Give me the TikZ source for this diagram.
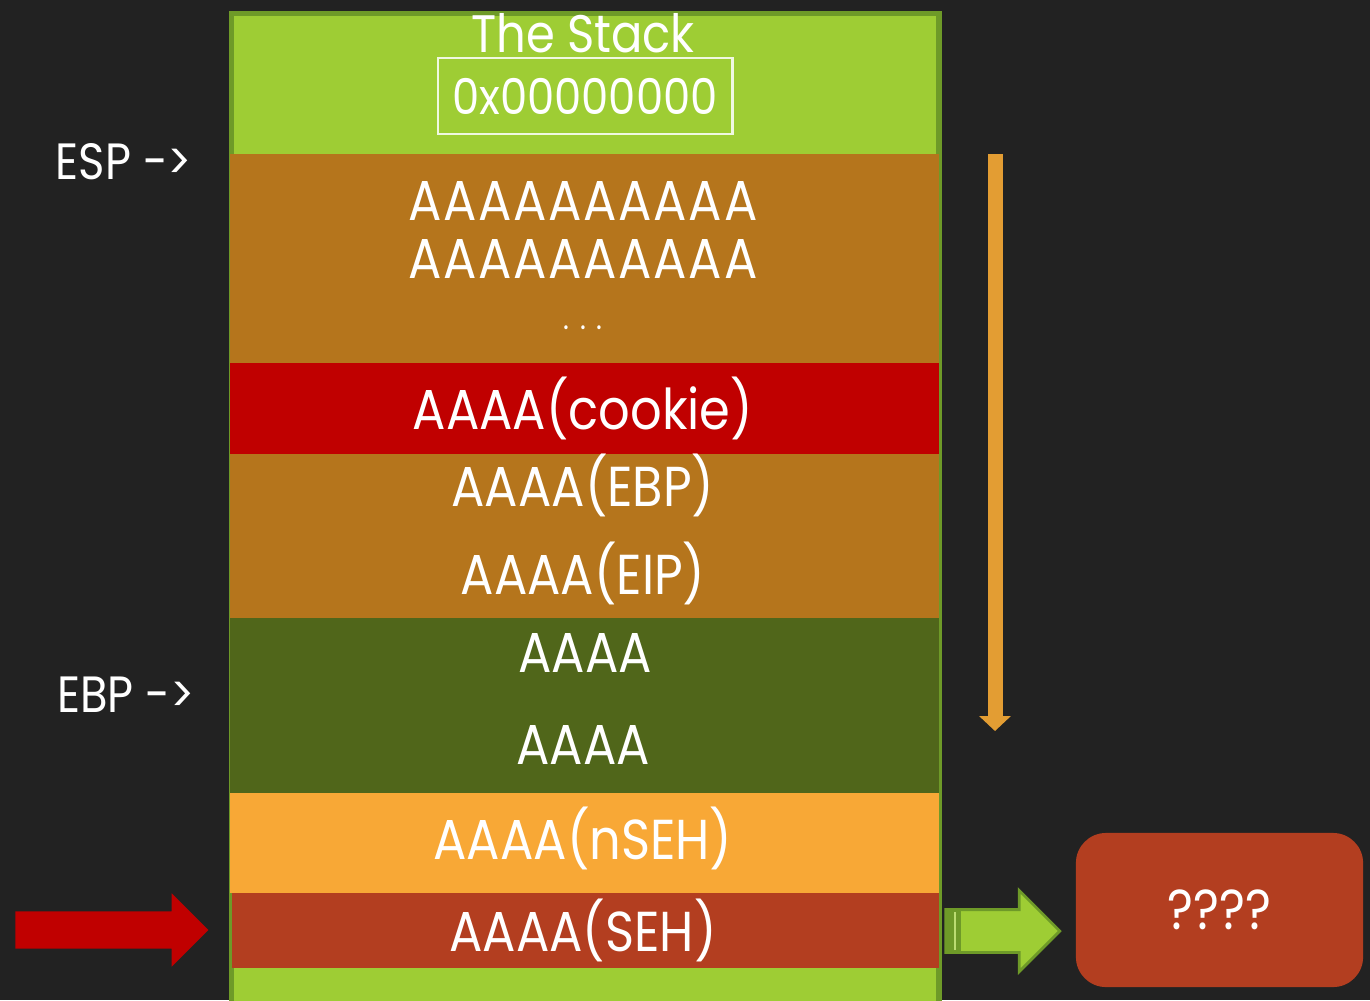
\documentclass[tikz,border=0pt]{standalone}
\usepackage{fontspec}
\setmainfont{Poppins}[FakeStretch=0.88]
\usetikzlibrary{shapes.arrows, arrows.meta, positioning}
\definecolor{bgdark}{HTML}{222222}
\definecolor{stackgreen}{HTML}{9ECD34}
\definecolor{stackedge}{HTML}{6E9A28}
\definecolor{bufbrown}{HTML}{B5751C}
\definecolor{cookiered}{HTML}{C00000}
\definecolor{olivegreen}{HTML}{50661A}
\definecolor{nsehorange}{HTML}{F8A836}
\definecolor{sehrust}{HTML}{B33E20}
\definecolor{groworange}{HTML}{E39D33}

\tikzset{
  band/.style={rectangle, inner sep=0pt, anchor=north west, minimum width=7.09cm},
  stacktext/.style={text=white, inner sep=0pt},
  blockarrow/.style={single arrow, single arrow head extend=#1, inner xsep=0pt, shape border rotate=0}
}

\begin{document}
\begin{tikzpicture}[x=0.01cm, y=-0.01cm, font=\fontsize{16}{19}\selectfont]
\useasboundingbox[fill=bgdark] (0,0) rectangle (1370,1000);

% the stack column and its slots
\node[band, fill=stackgreen, draw=stackedge, line width=1.5pt, minimum width=7.07cm, minimum height=10.2cm] (stack) at (229,11) {};
\node[band, fill=bufbrown, minimum height=2.09cm] (buffer) at (229,153) {};
\node[band, fill=cookiered, minimum height=0.91cm] (cookie) at (229,362) {};
\node[band, fill=bufbrown, minimum height=1.64cm] (frame) at (229,453) {};
\node[band, fill=olivegreen, minimum height=1.75cm] (locals) at (229,617) {};
\node[band, fill=nsehorange, minimum height=1.00cm] (nseh) at (229,792) {};
\node[band, fill=sehrust, minimum height=0.75cm, minimum width=7.07cm] (seh) at (231,892) {};

% texts
\node[stacktext, font=\fontsize{15}{18}\selectfont] (title) at (583,33) {The Stack};
\node[stacktext, draw=white!85!stackgreen, line width=0.8pt, minimum width=2.94cm, minimum height=0.76cm, font=\fontsize{14}{17}\selectfont] (addr) at (585,96) {0x00000000};
\node[stacktext, font=\fontsize{16}{19}\selectfont\addfontfeature{LetterSpace=3}] (buf1) at (583,201) {AAAAAAAAAA};
\node[stacktext, font=\fontsize{16}{19}\selectfont\addfontfeature{LetterSpace=3}] (buf2) at (583,259) {AAAAAAAAAA};
\node[stacktext, font=\fontsize{9}{11}\selectfont] (bufdots) at (583,328) {.\,\,.\,\,.};
\node[stacktext] (cookietxt) at (583,408) {AAAA(cookie)};
\node[stacktext] (ebptxt) at (583,485) {AAAA(EBP)};
\node[stacktext] (eiptxt) at (583,573) {AAAA(EIP)};
\node[stacktext] (local1) at (585,653) {AAAA};
\node[stacktext] (local2) at (583,745) {AAAA};
\node[stacktext] (nsehtxt) at (583,838) {AAAA(nSEH)};
\node[stacktext] (sehtxt) at (583,930) {AAAA(SEH)};

% pointers on the left
\node[stacktext, font=\fontsize{14.5}{17}\selectfont] (esp) at (124,162) {ESP ->};
\node[stacktext, font=\fontsize{14.5}{17}\selectfont] (ebp) at (126,695) {EBP ->};

% growth direction
\coordinate (growtop) at (995,154);
\coordinate (growend) at (995,731);
\draw[groworange, line width=0.15cm, -{Triangle[length=0.15cm, width=0.31cm]}] (growtop) -- (growend);

% overwritten handler
\node[blockarrow=0.18cm, inner ysep=0.18cm, fill=cookiered, minimum height=1.93cm] (inarrow) at (102.5,930) {};
\node[blockarrow=0.19cm, inner ysep=0.2cm, fill=stackgreen, draw=stackedge, line width=0.8pt, minimum height=1.14cm] (jumparrow) at (992,931) {};
\fill[stackedge] (947,911) rectangle (961,951);
\draw[stackgreen!70!white, line width=0.6pt] (955,912) -- (955,950);
\node[rectangle, rounded corners=0.3cm, fill=sehrust, minimum width=2.87cm, minimum height=1.54cm, text=white] (handler) at (1219.5,910) {????};
\end{tikzpicture}
\end{document}
